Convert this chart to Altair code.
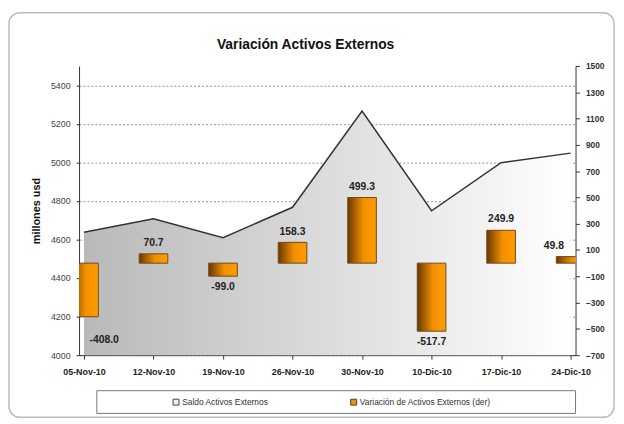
import json
import altair as alt
import pandas as pd

fechas = ["05-Nov-10", "12-Nov-10", "19-Nov-10", "26-Nov-10",
          "30-Nov-10", "10-Dic-10", "17-Dic-10", "24-Dic-10"]
saldo = [4637, 4708, 4609, 4767, 5266, 4749, 4998, 5048]
variacion = [-408.0, 70.7, -99.0, 158.3, 499.3, -517.7, 249.9, 49.8]
series = ["Saldo Activos Externos", "Variación de Activos Externos (der)"]
left_ticks = [4000, 4200, 4400, 4600, 4800, 5000, 5200, 5400]
right_ticks = [-700, -500, -300, -100, 100, 300, 500, 700, 900, 1100, 1300, 1500]

df = pd.DataFrame({"i": list(range(len(fechas))), "fecha": fechas,
                   "saldo": saldo, "var": variacion})
df["lbl"] = [f"{v:.1f}" for v in variacion]

W, H = 503, 293
label_expr = json.dumps(fechas) + "[datum.value]"

x_enc = alt.X("i:Q", scale=alt.Scale(domain=[0, len(fechas) - 1], nice=False, zero=False),
              axis=alt.Axis(values=list(range(len(fechas))), labelExpr=label_expr, title=None,
                            grid=False, tickSize=4, labelPadding=9, labelFontSize=9,
                            labelFontWeight="bold", labelColor="#222", domainColor="#333",
                            tickColor="#333", labelFlush=False))

yl = alt.Y("saldo:Q", scale=alt.Scale(domain=[4000, 5500], nice=False, zero=False),
           axis=alt.Axis(values=left_ticks, format="d", title="millones usd", titleFontSize=11,
                         titleFontWeight="bold", titleColor="#111", titlePadding=9,
                         grid=True, gridDash=[2, 2], gridColor="#777", gridWidth=0.8,
                         tickSize=3, labelPadding=6, labelFontSize=9, labelColor="#444",
                         domainColor="#333", tickColor="#333"))

base = alt.Chart(df)
area = base.mark_area(
    color=alt.Gradient(gradient="linear", x1=0, x2=1, y1=0, y2=0,
                       stops=[alt.GradientStop(offset=0, color="#b9b9b9"),
                              alt.GradientStop(offset=1, color="#ffffff")]),
    opacity=1).encode(x=x_enc, y=yl, y2=alt.datum(4000))
line = base.mark_line(color="#333333", strokeWidth=1.5).encode(x="i:Q", y="saldo:Q")
left = alt.layer(area, line)

yr_scale = alt.Scale(domain=[-700, 1500], nice=False, zero=False)
yr_axis = alt.Axis(orient="right", values=right_ticks, format="d", title=None, grid=False,
                   tickSize=4, labelPadding=6, labelFontSize=8.5,
                   labelFontWeight="bold", labelColor="#333",
                   domainColor="#333", tickColor="#333")
bars = base.mark_bar(
    size=29, clip=True, stroke="#6b4a1a", strokeWidth=1,
    color=alt.Gradient(gradient="linear", x1=0, x2=1, y1=0, y2=0,
                       stops=[alt.GradientStop(offset=0, color="#6b3800"),
                              alt.GradientStop(offset=0.55, color="#f29000"),
                              alt.GradientStop(offset=1, color="#ff9c00")])
).encode(x="i:Q", y=alt.Y("var:Q", scale=yr_scale, axis=yr_axis, title=None), y2=alt.datum(0))

texts = base.transform_calculate(
    lx="datum.i == 0 ? 0.29 : (datum.i == 7 ? 6.76 : datum.i)",
    ly="datum.i == 0 ? datum.var - 180 : (datum.var >= 0 ? datum.var + 82 : datum.var - 82)"
).mark_text(fontSize=10.5, fontWeight="bold", color="#222", baseline="middle").encode(
    x="lx:Q", y=alt.Y("ly:Q", scale=yr_scale, axis=yr_axis, title=None), text="lbl:N")
right = alt.layer(bars, texts)

legend_df = pd.DataFrame({"serie": series})
leg = alt.Chart(legend_df).mark_point(shape="square", filled=True, opacity=0).encode(
    x=alt.value(0), y=alt.value(0),
    color=alt.Color("serie:N", scale=alt.Scale(domain=series, range=["#eeeeee", "#f39200"]),
                    legend=alt.Legend(orient="none", legendX=94, legendY=336,
                                      direction="horizontal", title=None,
                                      symbolType="square", symbolSize=36,
                                      symbolOpacity=1, symbolStrokeColor="#444",
                                      symbolStrokeWidth=1, labelFontSize=8.5,
                                      labelColor="#333", labelOffset=2,
                                      columnPadding=81, padding=0)))

frame_df = pd.DataFrame({"k": [0]})
legend_box = alt.Chart(frame_df).mark_rect(fill="white", stroke="#777", strokeWidth=1).encode(
    x=alt.value(18), x2=alt.value(503), y=alt.value(329), y2=alt.value(352))
outer_box = alt.Chart(frame_df).mark_rect(fill=None, stroke="#bbbbbb", strokeWidth=1.5,
                                          cornerRadius=11, clip=False).encode(
    x=alt.value(-71), x2=alt.value(542), y=alt.value(-54), y2=alt.value(356))

chart = alt.layer(outer_box, legend_box, left, right, leg).resolve_scale(
    y="independent"
).properties(
    width=W, height=H,
    title=alt.TitleParams("Variación Activos Externos", fontSize=14, fontWeight="bold",
                          color="#111", anchor="middle", frame="group", offset=0,
                          dx=-22, dy=41),
    padding={"left": 72, "top": 56, "right": 41, "bottom": 66},
    autosize=alt.AutoSizeParams(type="none"),
).configure(font="Liberation Sans").configure_view(stroke=None)

chart.save("out.html", embed_options={"renderer": "svg", "actions": False})
